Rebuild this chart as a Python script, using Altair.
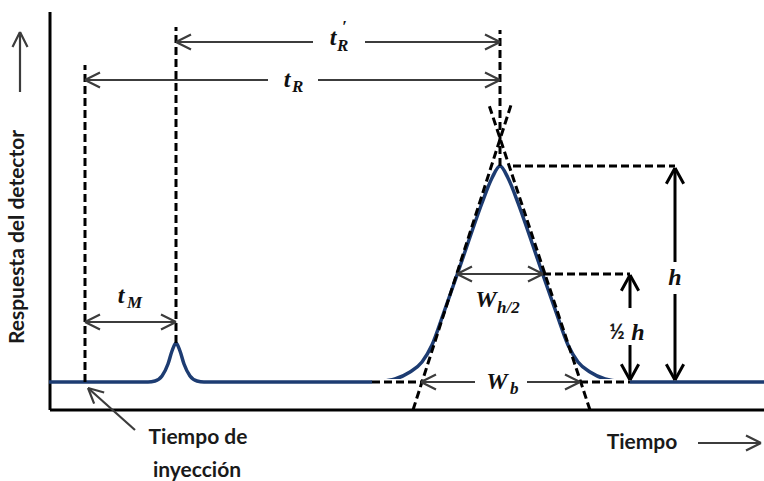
import altair as alt
import pandas as pd

# Coordinate system: time t with injection at t = 0, detector response r with baseline at r = 0
T_MIN, T_MAX = -36, 679
R_MIN, R_MAX = -28, 370

# Chromatogram trace (unretained peak at t_M, retained peak at t_R)
trace_t = [-36, 63, 70, 77, 83, 87, 91, 95, 99, 105, 112, 119, 285, 295, 310, 325, 337,
           347, 359, 372, 385, 397, 407, 415, 423, 433, 445, 458, 471, 483, 493, 505,
           520, 535, 555, 679]
trace_r = [0, 0, 1, 6, 18, 31, 39, 31, 18, 6, 1, 0, 0, 0.5, 3, 10, 20,
           37, 70, 107, 145, 179, 204, 216, 204, 179, 145, 107, 70, 37, 20, 10,
           3, 0.5, 0, 0]

# Characteristic times and peak height
t_inj, t_M, t_R, h = 0, 91, 415, 216

# Dashed construction lines: verticals, tangents, height marks, baseline extension
dash_t1 = [t_inj, t_M, t_R, 328, 505, 428, 458, 287, 495]
dash_r1 = [0, 39, h, -28, -28, h, h / 2, 0, 0]
dash_t2 = [t_inj, t_M, t_R, 426, 404, 590, 545, 336, 545]
dash_r2 = [317, 355, 352, 277, 277, h, h / 2, 0, 0]

# Thin measurement arrows (shaft segments, split where a label sits)
shaft_t1 = [t_M, 280, t_inj, 233, t_inj, 372, 336, 442, 613, -65, 50]
shaft_r1 = [340, 340, 302, 302, 60, h / 2, 0, 0, -61, 290, -48]
shaft_t2 = [228, t_R, 183, t_R, t_M, 458, 390, 495, 676, -65, 3]
shaft_r2 = [340, 340, 302, 302, 60, h / 2, 0, 0, -61, 350, -6]

head_t = [t_M, t_R, t_inj, t_R, t_inj, t_M, 372, 458, 336, 495, 676, -65, 3]
head_r = [340, 340, 302, 302, 60, 60, h / 2, h / 2, 0, 0, -61, 350, -6]
head_a = [180, 0, 180, 0, 180, 0, 180, 0, 180, 0, 0, 270, 222]

# Heavy vertical arrows for h and h/2
vshaft_t = [590, 590, 545, 545]
vshaft_r1 = [2, 120, 2, 74]
vshaft_r2 = [88, 214, 37, 107]
vhead_t = [590, 590, 545, 545]
vhead_r = [214, 2, 107, 2]
vhead_a = [270, 90, 270, 90]

# Italic symbol labels (centred) and their subscripts / primes (left-aligned)
sym_text = ["t", "t", "t", "W", "W", "h", "h"]
sym_t = [36, 202, 248, 401, 412, 590, 553]
sym_r = [86, 302, 344, 82, 0, 104, 49]
sub_text = ["M", "R", "R", "\u2032", "h/2", "b"]
sub_t = [42, 207, 252, 257, 412, 425]
sub_r = [79, 295, 336, 355, 74, -7]

# Plain labels
lbl_text = ["Tiempo", "Tiempo de", "inyección", "½"]
lbl_t = [557, 113, 112, 532]
lbl_r = [-61, -56, -89, 49]
lbl_size = [21, 21, 21, 21]

xs = alt.Scale(domain=[T_MIN, T_MAX], nice=False, zero=False)
ys = alt.Scale(domain=[R_MIN, R_MAX], nice=False, zero=False)
X = lambda f: alt.X(f, type="quantitative", scale=xs, axis=None)
Y = lambda f: alt.Y(f, type="quantitative", scale=ys, axis=None)

axes_df = pd.DataFrame({"t1": [T_MIN + 1, T_MIN + 1], "r1": [R_MIN, R_MIN],
                        "t2": [T_MIN + 1, T_MAX], "r2": [R_MAX, R_MIN]})
axes = alt.Chart(axes_df).mark_rule(color="black", strokeWidth=3).encode(
    x=X("t1"), y=Y("r1"), x2="t2", y2="r2")

trace_df = pd.DataFrame({"t": trace_t, "r": trace_r})
trace = alt.Chart(trace_df).mark_line(
    color="#1d3c72", strokeWidth=3.5, interpolate="monotone").encode(x=X("t"), y=Y("r"))

mask_df = pd.DataFrame({"t1": [287, 495], "t2": [336, 545], "r": [0, 0]})
mask = alt.Chart(mask_df).mark_rule(color="white", strokeWidth=6).encode(
    x=X("t1"), x2="t2", y=Y("r"))

dash_df = pd.DataFrame({"t1": dash_t1, "r1": dash_r1, "t2": dash_t2, "r2": dash_r2})
dashed = alt.Chart(dash_df).mark_rule(
    color="black", strokeWidth=3, strokeDash=[8, 4]).encode(
    x=X("t1"), y=Y("r1"), x2="t2", y2="r2")

shaft_df = pd.DataFrame({"t1": shaft_t1, "r1": shaft_r1, "t2": shaft_t2, "r2": shaft_r2})
shafts = alt.Chart(shaft_df).mark_rule(color="#3c3c3c", strokeWidth=2.2).encode(
    x=X("t1"), y=Y("r1"), x2="t2", y2="r2")

chevron = "M0,0L-1,-0.5M0,0L-1,0.5"
head_df = pd.DataFrame({"t": head_t, "r": head_r, "a": head_a})
heads = alt.Chart(head_df).mark_point(
    shape=chevron, filled=False, size=900, strokeWidth=2.2, color="#3c3c3c", opacity=1
).encode(x=X("t"), y=Y("r"), angle=alt.Angle("a:Q", scale=None))

vshaft_df = pd.DataFrame({"t": vshaft_t, "r1": vshaft_r1, "r2": vshaft_r2})
vshafts = alt.Chart(vshaft_df).mark_rule(color="black", strokeWidth=3).encode(
    x=X("t"), y=Y("r1"), y2="r2")

vhead_df = pd.DataFrame({"t": vhead_t, "r": vhead_r, "a": vhead_a})
vheads = alt.Chart(vhead_df).mark_point(
    shape="M0,0L-1,-0.55M0,0L-1,0.55", filled=False, size=1000, strokeWidth=3,
    color="black", opacity=1
).encode(x=X("t"), y=Y("r"), angle=alt.Angle("a:Q", scale=None))

sym_df = pd.DataFrame({"t": sym_t, "r": sym_r, "s": sym_text})
syms = alt.Chart(sym_df).mark_text(
    font="Liberation Serif", fontStyle="italic", fontWeight="bold", fontSize=24,
    color="#111111", baseline="middle", align="center").encode(
    x=X("t"), y=Y("r"), text="s:N")

sub_df = pd.DataFrame({"t": sub_t, "r": sub_r, "s": sub_text})
subs = alt.Chart(sub_df).mark_text(
    font="Liberation Serif", fontStyle="italic", fontWeight="bold", fontSize=17,
    color="#111111", baseline="middle", align="left").encode(
    x=X("t"), y=Y("r"), text="s:N")

lbl_df = pd.DataFrame({"t": lbl_t, "r": lbl_r, "s": lbl_text, "fs": lbl_size})
lbls = alt.Chart(lbl_df).mark_text(
    font="Lato", fontWeight="bold", color="#1a1a1a", baseline="middle").encode(
    x=X("t"), y=Y("r"), text="s:N", size=alt.Size("fs:Q", scale=None))

ytitle = alt.Chart(pd.DataFrame({"t": [-67], "r": [145], "s": ["Respuesta del detector"]})).mark_text(
    font="Lato", fontWeight="bold", fontSize=21, color="#1a1a1a", angle=270,
    baseline="middle").encode(x=X("t"), y=Y("r"), text="s:N")

chart = alt.layer(
    axes, trace, mask, dashed, shafts, heads, vshafts, vheads, syms, subs, lbls, ytitle
).properties(
    width=715, height=398,
    autosize=alt.AutoSizeParams(type="none"),
    padding={"left": 49, "top": 12, "right": 0, "bottom": 71},
    background="white",
).configure_view(stroke=None)

chart.save("out.html", embed_options={"renderer": "svg", "actions": False})
